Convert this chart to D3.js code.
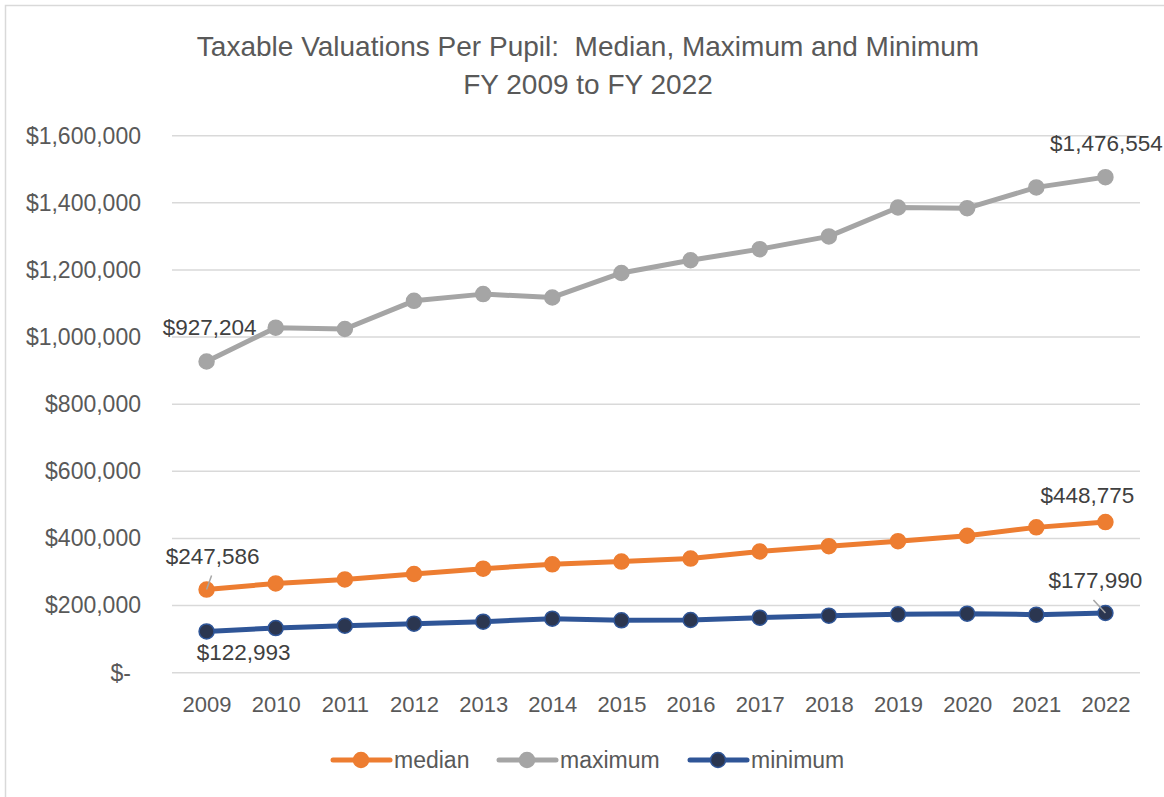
<!DOCTYPE html>
<html>
<head>
<meta charset="utf-8">
<script src="https://d3js.org/d3.v7.min.js"></script>
<style>
  body { margin: 0; background: #fff; }
  text { font-family: "Liberation Sans", Arial, sans-serif; }
</style>
</head>
<body>
<div id="chart"></div>
<script>
  // values
  var years = ["2009", "2010", "2011", "2012", "2013", "2014", "2015", "2016", "2017", "2018", "2019", "2020", "2021", "2022"];
  var median = [247586, 266000, 278000, 294000, 310000, 323000, 331000, 340000, 361000, 377000, 392000, 408000, 433000, 448775];
  var maximum = [927204, 1028000, 1024000, 1108000, 1128000, 1118000, 1191000, 1229000, 1262000, 1300000, 1386000, 1384000, 1446000, 1476554];
  var minimum = [122993, 133000, 140000, 146000, 152000, 161000, 156000, 157000, 164000, 170000, 174000, 176000, 173000, 177990];
  var yTicks = [0, 200000, 400000, 600000, 800000, 1000000, 1200000, 1400000, 1600000];
  var seriesNames = ["median", "maximum", "minimum"];

  var W = 1164, H = 797;
  var plot = {left: 172, right: 1140, top: 135.7, bottom: 672.7};

  // label offsets from the point (text centre), leader start offsets
  var series = [
    {name: "median", values: median, line: "#ed7d31", fill: "#ed7d31", stroke: "#ed7d31",
     labels: [{i: 0, dx: 6, dy: -33, leader: [5, -14]}, {i: 13, dx: -18, dy: -27}]},
    {name: "maximum", values: maximum, line: "#a5a5a5", fill: "#a5a5a5", stroke: "#a5a5a5",
     labels: [{i: 0, dx: 3, dy: -34}, {i: 13, dx: 1, dy: -34}]},
    {name: "minimum", values: minimum, line: "#2f5597", fill: "#2b3650", stroke: "#2f5597",
     labels: [{i: 0, dx: 37, dy: 21}, {i: 13, dx: -10, dy: -33, leader: [-12, -13]}]}
  ];

  var svg = d3.select("#chart").append("svg")
      .attr("width", W)
      .attr("height", H);

  // chart area border
  svg.append("rect")
    .attr("x", 5.5).attr("y", 5.5)
    .attr("width", W + 10).attr("height", H + 10)
    .attr("fill", "#fff")
    .attr("stroke", "#d9d9d9")
    .attr("stroke-width", 1.5);

  // title
  var title = svg.append("text")
    .attr("text-anchor", "middle")
    .attr("fill", "#595959")
    .style("font-size", "28px")
    .style("white-space", "pre");
  title.append("tspan").attr("x", 588).attr("y", 56).text("Taxable Valuations Per Pupil:  Median, Maximum and Minimum");
  title.append("tspan").attr("x", 588).attr("y", 94).text("FY 2009 to FY 2022");

  var x = d3.scalePoint()
    .domain(years)
    .range([plot.left, plot.right])
    .padding(0.5);

  var y = d3.scaleLinear()
    .domain([0, 1600000])
    .range([plot.bottom, plot.top]);

  // gridlines
  svg.append("g")
    .selectAll("line")
    .data(yTicks)
    .enter().append("line")
      .attr("x1", plot.left).attr("x2", plot.right)
      .attr("y1", function(d) { return y(d); })
      .attr("y2", function(d) { return y(d); })
      .attr("stroke", "#d9d9d9")
      .attr("stroke-width", 1.5);

  // Y axis
  var fmt = d3.format(",");
  var yAxis = svg.append("g")
    .attr("transform", "translate(" + 141 + ",0)")
    .call(d3.axisLeft(y).tickValues(yTicks).tickSize(0).tickPadding(0)
      .tickFormat(function(d) { return d === 0 ? "$-" : "$" + fmt(d); }));
  yAxis.select(".domain").remove();
  yAxis.selectAll("text")
    .attr("fill", "#595959")
    .attr("dx", function(d) { return d === 0 ? -10 : 0; })
    .style("font-size", "23px")
    .style("font-family", "'Liberation Sans', Arial, sans-serif");

  // X axis
  var xAxis = svg.append("g")
    .attr("transform", "translate(0," + plot.bottom + ")")
    .call(d3.axisBottom(x).tickSize(0).tickPadding(24));
  xAxis.select(".domain").remove();
  xAxis.selectAll("text")
    .attr("fill", "#595959")
    .style("font-size", "22px")
    .style("font-family", "'Liberation Sans', Arial, sans-serif");

  var line = d3.line()
    .x(function(d, i) { return x(years[i]); })
    .y(function(d) { return y(d); });

  series.forEach(function(s) {
    var g = svg.append("g");
    g.append("path")
      .datum(s.values)
      .attr("fill", "none")
      .attr("stroke", s.line)
      .attr("stroke-width", 5)
      .attr("stroke-linejoin", "round")
      .attr("d", line);
    g.selectAll("circle")
      .data(s.values)
      .enter().append("circle")
        .attr("cx", function(d, i) { return x(years[i]); })
        .attr("cy", function(d) { return y(d); })
        .attr("r", 7.5)
        .attr("fill", s.fill)
        .attr("stroke", s.stroke)
        .attr("stroke-width", 1.5);
  });

  // data labels
  series.forEach(function(s) {
    s.labels.forEach(function(l) {
      var px = x(years[l.i]), py = y(s.values[l.i]);
      if (l.leader) {
        svg.append("line")
          .attr("x1", px + l.leader[0]).attr("y1", py + l.leader[1])
          .attr("x2", px).attr("y2", py)
          .attr("stroke", "#a6a6a6")
          .attr("stroke-width", 1.5);
      }
      svg.append("text")
        .attr("x", px + l.dx)
        .attr("y", py + l.dy)
        .attr("dy", "0.35em")
        .attr("text-anchor", "middle")
        .attr("fill", "#404040")
        .style("font-size", "22.5px")
        .text("$" + fmt(s.values[l.i]));
    });
  });

  // legend
  var legendX = [333, 499, 690];
  var legend = svg.append("g");
  series.forEach(function(s, k) {
    var lx = legendX[k], ly = 760;
    legend.append("line")
      .attr("x1", lx).attr("x2", lx + 57)
      .attr("y1", ly).attr("y2", ly)
      .attr("stroke", s.line)
      .attr("stroke-width", 5)
      .attr("stroke-linecap", "round");
    legend.append("circle")
      .attr("cx", lx + 28).attr("cy", ly)
      .attr("r", 7.5)
      .attr("fill", s.fill)
      .attr("stroke", s.stroke)
      .attr("stroke-width", 1.5);
    legend.append("text")
      .attr("x", lx + 61).attr("y", ly)
      .attr("dy", "0.35em")
      .attr("fill", "#595959")
      .style("font-size", "23px")
      .text(seriesNames[k]);
  });
</script>
</body>
</html>
